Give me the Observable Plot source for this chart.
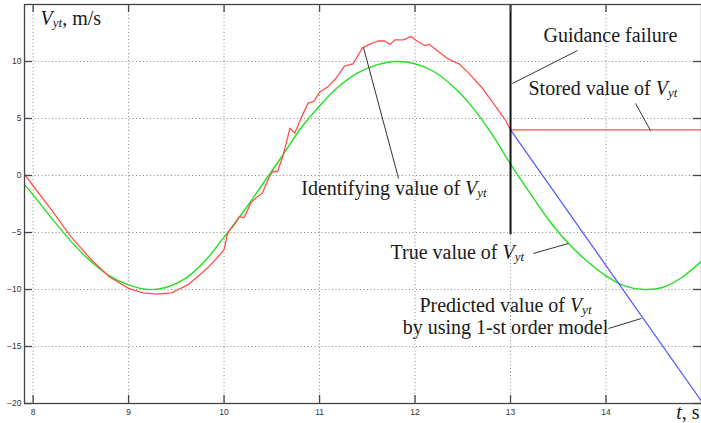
<!DOCTYPE html>
<html><head><meta charset="utf-8">
<script src="https://cdn.jsdelivr.net/npm/d3@7"></script>
<script src="https://cdn.jsdelivr.net/npm/@observablehq/plot@0.6"></script>
<style>
html,body{margin:0;padding:0;background:#fff;overflow:hidden;}
#chart svg{display:block;}
</style></head><body><div id="chart"></div>
<script>
// True value of V_yt (green)
const trueT = [7.91,8.0,8.2,8.4,8.6,8.8,9.0,9.2,9.4,9.6,9.8,10.0,10.2,10.4,10.6,10.8,11.0,11.2,11.4,11.6,11.8,12.0,12.2,12.4,12.6,12.8,13.0,13.2,13.4,13.6,13.8,14.0,14.2,14.4,14.6,14.8,15.0];
const trueV = [-0.8,-1.7,-3.8,-5.8,-7.5,-8.8,-9.6,-10.0,-9.8,-9.0,-7.5,-5.4,-3.2,-0.8,1.6,4.1,6.1,7.8,9.0,9.7,10.0,9.8,9.1,7.8,6.0,3.7,1.0,-1.5,-3.9,-5.9,-7.5,-8.8,-9.7,-10.0,-9.8,-8.9,-7.5];
// Identifying value of V_yt (red)
const identT = [7.91,8.0,8.2,8.4,8.6,8.8,9.0,9.15,9.3,9.45,9.62,9.83,9.95,10.0,10.03,10.05,10.1,10.16,10.21,10.28,10.33,10.4,10.47,10.51,10.56,10.62,10.69,10.74,10.81,10.88,10.94,11.0,11.09,11.18,11.26,11.35,11.45,11.52,11.61,11.68,11.74,11.79,11.88,11.96,12.02,12.1,12.15,12.24,12.35,12.46,12.56,12.7,12.84,12.94,13.0];
const identV = [0.1,-0.9,-3.1,-5.4,-7.3,-8.9,-9.9,-10.3,-10.4,-10.3,-9.6,-8.1,-7.0,-6.5,-5.3,-4.9,-4.4,-3.6,-3.7,-2.4,-2.0,-1.55,-0.2,0.35,0.35,1.8,4.15,3.7,5.1,6.35,6.5,7.3,7.8,8.6,9.6,9.8,11.2,11.5,11.8,11.8,11.5,11.9,11.9,12.2,11.8,11.4,11.5,10.9,10.2,9.8,9.0,7.7,6.1,4.95,4.0];
// Stored value (red, after failure)
const storedT = [13.0, 15.0];
const storedV = [4.0, 4.0];
// Predicted value, 1-st order model (blue)
const predT = [13.0, 15.0];
const predV = [4.0, -19.8];
// Guidance failure moment
const failureT = [13.0];
const failureTop = [15.0];
const failureBottom = [-5.2];
// ticks
const xTicks = [8, 9, 10, 11, 12, 13, 14];
const yTicks = [-20, -15, -10, -5, 0, 5, 10];
const xGrid = [8, 9, 10, 11, 12, 13, 14];
const yGrid = [-15, -10, -5, 0, 5, 10];
// annotations (text pieces: pre, italic, subscript, post)
const annPre  = ["Guidance failure", "Stored value of ", "Identifying value of ", "True value of ", "Predicted value of ", "by using 1-st order model", "", ""];
const annIt   = ["", "V", "V", "V", "V", "", "V", "t"];
const annSub  = ["", "yt", "yt", "yt", "yt", "", "yt", ""];
const annPost = ["", "", "", "", "", "", ", m/s", ", s"];
const annT = [13.345, 13.188, 10.808, 11.743, 12.947, 12.947, 8.078, 14.735];
const annV = [11.667, 7.018, -1.754, -7.281, -11.95, -13.86, 13.158, -21.32];
const annAnchor = ["start", "start", "start", "start", "middle", "middle", "start", "start"];
// leader lines
const leadT1 = [13.02, 14.466, 11.46, 13.24, 14.026];
const leadV1 = [8.07, 3.95, 11.23, -6.84, -13.42];
const leadT2 = [13.701, 14.309, 11.827, 13.607, 14.371];
const leadV2 = [10.96, 6.32, -0.26, -5.96, -12.54];

const trueData = trueT.map((t, i) => ({t, v: trueV[i]}));
const identData = identT.map((t, i) => ({t, v: identV[i]}));
const storedData = storedT.map((t, i) => ({t, v: storedV[i]}));
const predData = predT.map((t, i) => ({t, v: predV[i]}));
const failData = failureT.map((t, i) => ({t, top: failureTop[i], bottom: failureBottom[i]}));
const anns = annPre.map((p, i) => ({plain: p + annIt[i] + annSub[i] + annPost[i], pre: p, it: annIt[i], sub: annSub[i], post: annPost[i], t: annT[i], v: annV[i], anchor: annAnchor[i]}));
const leaders = leadT1.map((t, i) => ({t1: t, v1: leadV1[i], t2: leadT2[i], v2: leadV2[i]}));

const red = "#ff5050", green = "#22e022", blue = "#5a5aff";
const serif = "'Liberation Serif', 'Times New Roman', serif";
const textOpts = {x: "t", y: "v", text: "plain", lineAnchor: "bottom", fontSize: 20, fontFamily: serif, fill: "#1a1a1a", clip: false};

const plot = Plot.plot({
  width: 701, height: 423,
  marginLeft: 24, marginRight: 0, marginTop: 4, marginBottom: 20,
  x: {domain: [7.91, 15.0], label: null},
  y: {domain: [-20, 15], label: null},
  style: {background: "#fff", fontFamily: "'Liberation Sans', Arial, sans-serif"},
  marks: [
    Plot.ruleX(xGrid, {stroke: "#8a8a8a", strokeWidth: 1, strokeDasharray: "1,2.5"}),
    Plot.ruleY(yGrid, {stroke: "#8a8a8a", strokeWidth: 1, strokeDasharray: "1,2.5"}),
    Plot.line(trueData, {x: "t", y: "v", stroke: green, strokeWidth: 1.4, curve: "catmull-rom"}),
    Plot.line(identData, {x: "t", y: "v", stroke: red, strokeWidth: 1.3}),
    Plot.line(storedData, {x: "t", y: "v", stroke: red, strokeWidth: 1.3}),
    Plot.line(predData, {x: "t", y: "v", stroke: blue, strokeWidth: 1.3}),
    Plot.ruleX(failData, {x: "t", y1: "top", y2: "bottom", stroke: "#111", strokeWidth: 2}),
    Plot.link(leaders, {x1: "t1", y1: "v1", x2: "t2", y2: "v2", stroke: "#333", strokeWidth: 1}),
    Plot.ruleX(xTicks, {stroke: "#444", strokeWidth: 1.3, insetTop: 391}),
    Plot.ruleX(xTicks, {stroke: "#444", strokeWidth: 1.3, insetBottom: 391}),
    Plot.ruleY(yTicks, {stroke: "#444", strokeWidth: 1.3, insetRight: 669}),
    Plot.ruleY(yTicks, {stroke: "#444", strokeWidth: 1.3, insetLeft: 669}),
    Plot.frame({stroke: "#444", strokeWidth: 1.3}),
    Plot.axisX(xTicks, {tickSize: 0, tickPadding: 5, fontSize: 8.5, fill: "#333", label: null}),
    Plot.axisY(yTicks, {tickSize: 0, tickPadding: 3, fontSize: 8.5, fill: "#333", label: null}),
    Plot.text(anns.filter(d => d.anchor === "start"), {...textOpts, textAnchor: "start"}),
    Plot.text(anns.filter(d => d.anchor === "middle"), {...textOpts, textAnchor: "middle"})
  ]
});

// Rich text: italic V and subscript yt
d3.select(plot).selectAll("text").each(function () {
  const s = this.textContent;
  const a = anns.find(d => d.plain === s && (d.it || d.sub));
  if (!a) return;
  const el = d3.select(this);
  el.text(null);
  if (a.pre) el.append("tspan").text(a.pre);
  if (a.it) el.append("tspan").attr("font-style", "italic").text(a.it);
  if (a.sub) el.append("tspan").attr("font-style", "italic").attr("font-size", "13px").attr("dy", "2").text(a.sub);
  if (a.post) el.append("tspan").attr("dy", a.sub ? "-2" : "0").text(a.post);
});

document.getElementById("chart").appendChild(plot);
</script></body></html>
